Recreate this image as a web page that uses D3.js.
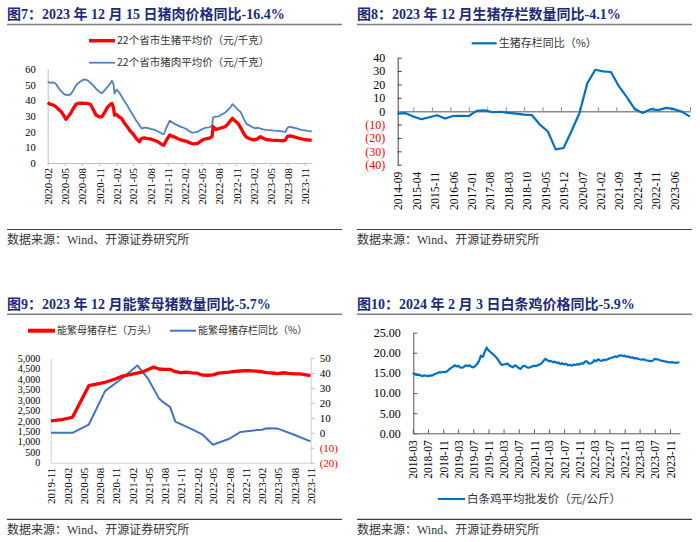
<!DOCTYPE html>
<html><head><meta charset="utf-8">
<script src="https://cdn.jsdelivr.net/npm/d3@7"></script>
<style>body{margin:0;background:#fff}</style>
</head><body>
<svg id="c" width="700" height="542" style="background:#fff"></svg>
<script>
// ---------- DATA ----------
// Chart 7: hog & pork prices
const c7Dates = ["2020-02-01","2020-02-15","2020-03-01","2020-03-15","2020-04-01","2020-04-15","2020-05-01","2020-05-08","2020-05-15","2020-06-01","2020-06-15","2020-07-01","2020-07-10","2020-08-01","2020-08-15","2020-09-01","2020-09-15","2020-10-01","2020-10-15","2020-11-01","2020-11-15","2020-12-01","2020-12-15","2021-01-01","2021-01-08","2021-01-16","2021-01-22","2021-02-01","2021-02-15","2021-03-01","2021-03-15","2021-04-01","2021-04-15","2021-05-01","2021-05-15","2021-06-03","2021-06-15","2021-07-01","2021-07-15","2021-08-01","2021-08-15","2021-09-01","2021-09-15","2021-10-01","2021-10-12","2021-10-25","2021-11-12","2021-11-25","2021-12-10","2021-12-25","2022-01-10","2022-01-25","2022-02-10","2022-02-25","2022-03-12","2022-03-25","2022-04-10","2022-04-25","2022-05-10","2022-05-25","2022-06-10","2022-06-25","2022-07-01","2022-07-15","2022-08-01","2022-08-15","2022-09-01","2022-09-15","2022-10-01","2022-10-12","2022-10-25","2022-11-10","2022-11-25","2022-12-10","2022-12-25","2023-01-10","2023-01-25","2023-02-10","2023-02-25","2023-03-10","2023-03-25","2023-04-10","2023-04-25","2023-05-10","2023-05-25","2023-06-10","2023-06-25","2023-07-10","2023-07-20","2023-08-01","2023-08-15","2023-09-01","2023-09-15","2023-10-01","2023-10-15","2023-11-01","2023-11-15","2023-12-01","2023-12-08"];
const c7Pork = [51.8,51.2,51.5,50.6,47.5,45.5,43.6,43.8,43.2,43.8,46.0,49.5,50.8,52.6,53.4,52.8,51.2,49.5,47.5,45.5,44.5,46.5,48.5,51.0,52.5,50.5,44.5,46.8,45.2,42.5,39.5,36.5,33.5,30.5,27.5,24.2,22.0,22.6,22.4,21.8,21.4,20.8,19.8,18.8,18.5,22.5,27.0,26.0,24.8,24.0,23.0,22.5,21.5,20.2,19.4,19.6,20.0,21.0,22.0,22.6,22.8,23.5,29.2,29.6,29.8,31.0,32.0,33.5,35.5,37.6,36.0,34.0,32.5,28.5,25.0,24.0,23.0,22.1,22.5,22.0,21.5,21.2,21.0,20.8,20.7,20.5,20.3,20.0,19.8,22.5,23.2,22.6,22.2,21.6,21.2,20.8,20.5,20.3,20.1];
const c7Hog = [38.6,37.5,37.0,36.0,34.0,32.5,29.5,27.9,28.8,31.5,34.5,37.5,38.0,38.2,38.0,38.0,37.5,34.0,30.6,29.5,29.5,32.5,35.5,37.5,38.0,35.5,30.5,31.0,29.5,28.5,25.5,23.0,20.5,18.5,16.0,13.6,15.7,16.0,15.6,15.4,14.8,14.0,13.2,11.8,11.3,14.5,17.9,17.0,16.5,15.5,14.8,14.3,13.8,13.0,12.4,12.2,12.5,13.8,15.0,15.5,15.8,16.8,23.2,21.5,22.0,22.5,23.0,24.5,27.0,28.5,27.0,25.3,22.5,19.0,16.5,15.6,15.0,14.8,15.7,16.8,15.8,15.0,14.8,14.6,14.5,14.4,14.3,14.2,14.5,17.0,17.3,16.8,16.3,15.8,15.4,15.0,14.8,14.6,14.5];
const c7YTicks = [0,10,20,30,40,50,60];
const c7XTicks = ["2020-02","2020-05","2020-08","2020-11","2021-02","2021-05","2021-08","2021-11","2022-02","2022-05","2022-08","2022-11","2023-02","2023-05","2023-08","2023-11"];

// Chart 8: hog inventory YoY (%)
const c8Dates = ["2014-09","2014-12","2015-03","2015-06","2015-09","2015-12","2016-03","2016-06","2016-09","2016-12","2017-03","2017-06","2017-09","2017-12","2018-03","2018-06","2018-09","2018-12","2019-03","2019-06","2019-09","2019-12","2020-03","2020-06","2020-09","2020-12","2021-03","2021-06","2021-09","2021-12","2022-03","2022-06","2022-09","2022-12","2023-03","2023-06","2023-09","2023-12"];
const c8Yoy = [-1.8,-1.5,-4,-6,-4.5,-3,-5.5,-3.6,-3.5,-3.6,0.3,0.6,-0.8,-0.4,-1.2,-1.8,-2.5,-3,-10,-15,-28.5,-27.5,-15,-1.5,21,31,29.8,29.3,18.5,10.5,1.8,-1.3,1.5,0.8,2.5,1.5,-0.5,-4.1];
const c8YTicks = [-40,-30,-20,-10,0,10,20,30,40];
const c8XTicks = ["2014-09","2015-04","2015-11","2016-06","2017-01","2017-08","2018-03","2018-10","2019-05","2019-12","2020-07","2021-02","2021-09","2022-04","2022-11","2023-06"];
const c8TickMarks = ["2015-03","2015-10","2016-05","2016-12","2017-07","2018-02","2018-09","2019-04","2019-11","2020-06","2021-01","2021-08","2022-03","2022-10","2023-05","2023-12"];

// Chart 9: breeding sows (10k head) and YoY (%)
const c9SowDates = ["2019-11","2020-01","2020-03","2020-06","2020-09","2020-11","2020-12","2021-02","2021-04","2021-05","2021-06","2021-07","2021-08","2021-09","2021-10","2021-11","2021-12","2022-01","2022-02","2022-03","2022-04","2022-05","2022-06","2022-07","2022-08","2022-09","2022-10","2022-11","2022-12","2023-01","2023-02","2023-03","2023-04","2023-05","2023-06","2023-07","2023-08","2023-09","2023-10","2023-11"];
const c9Sow = [2000,2060,2170,3680,3840,4010,4120,4230,4340,4450,4564,4475,4459,4459,4348,4296,4329,4290,4274,4185,4177,4192,4277,4298,4324,4362,4379,4394,4390,4376,4343,4305,4284,4258,4296,4261,4241,4240,4210,4158];
const c9YoyDates = ["2019-11","2020-03","2020-06","2020-09","2020-12","2021-03","2021-05","2021-07","2021-08","2021-09","2021-10","2022-01","2022-03","2022-05","2022-08","2022-10","2023-01","2023-02","2023-03","2023-05","2023-08","2023-11"];
const c9Yoy = [0,0,5.5,28,36,45,36,23,19.8,17.3,7.5,2.4,-1,-8,-4,0.5,1.8,2,3,2.8,-1.3,-5.7];
const c9LTicks = [0,500,1000,1500,2000,2500,3000,3500,4000,4500,5000];
const c9RTicks = [-20,-10,0,10,20,30,40,50];
const c9XTicks = ["2019-11","2020-02","2020-05","2020-08","2020-11","2021-02","2021-05","2021-08","2021-11","2022-02","2022-05","2022-08","2022-11","2023-02","2023-05","2023-08","2023-11"];

// Chart 10: white-striped chicken wholesale price (yuan/kg); value on the 1st and 16th of each month
const c10Months = ["2018-03","2018-04","2018-05","2018-06","2018-07","2018-08","2018-09","2018-10","2018-11","2018-12","2019-01","2019-02","2019-03","2019-04","2019-05","2019-06","2019-07","2019-08","2019-09","2019-10","2019-11","2019-12","2020-01","2020-02","2020-03","2020-04","2020-05","2020-06","2020-07","2020-08","2020-09","2020-10","2020-11","2020-12","2021-01","2021-02","2021-03","2021-04","2021-05","2021-06","2021-07","2021-08","2021-09","2021-10","2021-11","2021-12","2022-01","2022-02","2022-03","2022-04","2022-05","2022-06","2022-07","2022-08","2022-09","2022-10","2022-11","2022-12","2023-01","2023-02","2023-03","2023-04","2023-05","2023-06","2023-07","2023-08","2023-09","2023-10","2023-11","2023-12","2024-01"];
const c10First = [15.0,14.5,14.4,14.4,14.2,14.3,14.8,15.2,15.3,15.4,16.2,16.9,16.8,16.3,16.9,16.9,16.4,17.2,19.3,20.2,20.6,19.8,18.9,17.5,17.1,17.3,16.6,16.9,16.2,16.6,16.5,16.4,16.8,16.9,17.4,18.5,17.9,17.7,17.5,17.2,17.1,16.9,16.8,17.0,17.1,17.3,17.9,17.4,18.2,18.4,18.0,18.2,18.6,18.9,19.0,19.4,19.3,19.1,18.9,18.7,18.4,18.4,18.1,17.9,18.5,18.3,18.0,17.8,17.6,17.6,17.6];
const c10Mid = [14.7,14.6,14.2,14.3,14.4,14.6,15.0,15.1,15.2,15.8,16.5,16.6,16.4,16.5,16.7,16.5,16.7,18.0,19.0,21.3,20.2,19.4,18.3,17.0,17.2,16.9,16.4,16.6,16.0,16.8,16.3,16.6,16.7,17.1,18.0,18.2,18.0,17.8,17.6,17.4,17.3,17.0,17.1,17.2,17.4,17.8,17.3,17.6,17.9,18.1,18.3,18.4,18.8,19.1,19.3,19.2,19.0,18.8,18.6,18.5,18.3,18.2,18.0,18.1,18.4,18.1,17.9,17.7,17.7,17.5,17.6];
const c10YTicks = [0,5,10,15,20,25];
const c10XTicks = ["2018-03","2018-07","2018-11","2019-03","2019-07","2019-11","2020-03","2020-07","2020-11","2021-03","2021-07","2021-11","2022-03","2022-07","2022-11","2023-03","2023-07","2023-11"];

// ---------- HELPERS ----------
const svg = d3.select("#c");
const SERIF = '"Liberation Serif","Times New Roman","Noto Sans CJK SC",serif';
const CJK = '"Noto Sans CJK SC","Liberation Serif",sans-serif';
const pDay = d3.timeParse("%Y-%m-%d");
const pMon = d3.timeParse("%Y-%m");
const fMon = d3.timeFormat("%Y-%m");

function title(x, y, t) {
  svg.append("text").attr("x", x).attr("y", y).attr("font-size", 14).attr("font-weight", "bold")
    .attr("fill", "#1e2a78").attr("font-family", SERIF).text(t);
}
function rule(x1, x2, y, w, c) {
  svg.append("line").attr("x1", x1).attr("x2", x2).attr("y1", y).attr("y2", y)
    .attr("stroke", c).attr("stroke-width", w);
}
function source(x, y) {
  svg.append("text").attr("x", x).attr("y", y).attr("font-size", 12).attr("fill", "#333")
    .attr("font-family", SERIF).text("数据来源：Wind、开源证券研究所");
}
function legend(x1, x2, y, color, w, text, fs) {
  svg.append("line").attr("x1", x1).attr("x2", x2).attr("y1", y).attr("y2", y)
    .attr("stroke", color).attr("stroke-width", w);
  svg.append("text").attr("x", x2 + 2).attr("y", y + fs * 0.36).attr("font-size", fs)
    .attr("fill", "#333").attr("font-family", CJK).text(text);
}
function xAxisRot(scale, ticks, y, pad, fs, tickSize, tickColor, domainColor) {
  const g = svg.append("g").attr("transform", `translate(0,${y})`)
    .call(d3.axisBottom(scale).tickValues(ticks.map(pMon)).tickFormat(fMon).tickSize(tickSize).tickSizeOuter(0));
  if (domainColor) g.select(".domain").attr("stroke", domainColor); else g.select(".domain").remove();
  g.selectAll(".tick line").attr("stroke", tickColor);
  g.selectAll("text").attr("transform", "rotate(-90)").attr("x", -pad).attr("y", 0).attr("dy", "0.35em")
    .attr("text-anchor", "end").attr("font-size", fs).attr("font-family", SERIF).attr("fill", "#000");
  return g;
}
function styleY(g, fs, domainColor, tickColor, negRed) {
  g.select(".domain").attr("stroke", domainColor);
  g.selectAll(".tick line").attr("stroke", tickColor);
  g.selectAll("text").attr("font-size", fs).attr("font-family", SERIF)
    .attr("fill", d => (negRed && d < 0) ? "#ff0000" : "#000");
}
const negFmt = d => d < 0 ? `(${-d})` : `${d}`;

// ---------- FRAME ----------
title(7, 19, "图7：2023 年 12 月 15 日猪肉价格同比-16.4%");
title(357, 19, "图8：2023 年 12 月生猪存栏数量同比-4.1%");
title(7, 309, "图9：2023 年 12 月能繁母猪数量同比-5.7%");
title(357, 309, "图10：2024 年 2 月 3 日白条鸡价格同比-5.9%");
rule(7, 342, 24.5, 1.5, "#7f7f7f"); rule(357, 692, 24.5, 1.5, "#7f7f7f");
rule(7, 342, 314.3, 1.5, "#7f7f7f"); rule(357, 692, 314.3, 1.5, "#7f7f7f");
rule(7, 342, 229.5, 1.2, "#404040"); rule(357, 692, 229.5, 1.2, "#404040");
rule(7, 342, 519.3, 1.2, "#404040"); rule(357, 692, 519.3, 1.2, "#404040");
source(7, 244); source(357, 244); source(7, 534); source(357, 534);

// ---------- CHART 7 ----------
{
  const x = d3.scaleTime().domain([pDay("2020-02-01"), pDay("2023-12-08")]).range([47.7, 311.7]);
  const y = d3.scaleLinear().domain([0, 60]).range([163, 69]);
  const gy = svg.append("g").attr("transform", "translate(47.7,0)")
    .call(d3.axisLeft(y).tickValues(c7YTicks).tickSize(0).tickPadding(12).tickSizeOuter(0));
  styleY(gy, 10.5, "#bfbfbf", "#bfbfbf", false);
  xAxisRot(x, c7XTicks, 163, 5, 11, 3, "#bfbfbf", "#bfbfbf");
  const pork = c7Dates.map((d, i) => ({ d: pDay(d), v: c7Pork[i] }));
  const hog = c7Dates.map((d, i) => ({ d: pDay(d), v: c7Hog[i] }));
  const line = d3.line().x(p => x(p.d)).y(p => y(p.v));
  svg.append("path").datum(pork).attr("d", line).attr("fill", "none").attr("stroke", "#4f81bd").attr("stroke-width", 1.8).attr("stroke-linejoin", "round");
  svg.append("path").datum(hog).attr("d", line).attr("fill", "none").attr("stroke", "#ff0000").attr("stroke-width", 3.3).attr("stroke-linejoin", "round");
  legend(89, 115, 40.7, "#ff0000", 3.5, "22个省市生猪平均价（元/千克）", 10.5);
  legend(89, 115, 62.7, "#4f81bd", 1.8, "22个省市猪肉平均价（元/千克）", 10.5);
}

// ---------- CHART 8 ----------
{
  const x = d3.scaleTime().domain([pMon("2014-09"), pMon("2023-12")]).range([397.7, 690]);
  const y = d3.scaleLinear().domain([-40, 40]).range([164.7, 57.7]);
  const gy = svg.append("g").attr("transform", "translate(397.7,0)")
    .call(d3.axisLeft(y).tickValues(c8YTicks).tickFormat(negFmt).tickSize(-4).tickPadding(12.5).tickSizeOuter(0));
  styleY(gy, 12, "#404040", "#404040", true);
  const gz = svg.append("g").attr("transform", `translate(0,${y(0)})`)
    .call(d3.axisBottom(x).tickValues(c8TickMarks.map(pMon)).tickFormat("").tickSize(-4).tickSizeOuter(0));
  gz.select(".domain").attr("stroke", "#8c8c8c").attr("stroke-width", 1.5);
  gz.selectAll(".tick line").attr("stroke", "#8c8c8c");
  xAxisRot(x, c8XTicks, 164.7, 7, 11.5, 0, "none", null);
  const data = c8Dates.map((d, i) => ({ d: pMon(d), v: c8Yoy[i] }));
  svg.append("path").datum(data).attr("d", d3.line().x(p => x(p.d)).y(p => y(p.v)))
    .attr("fill", "none").attr("stroke", "#0070c0").attr("stroke-width", 2.2).attr("stroke-linejoin", "round");
  legend(471.7, 496.7, 43.3, "#0070c0", 2.2, "生猪存栏同比（%）", 11);
}

// ---------- CHART 9 ----------
{
  const x = d3.scaleTime().domain([pMon("2019-11"), pMon("2023-11")]).range([51, 310.5]);
  const yL = d3.scaleLinear().domain([0, 5000]).range([462.7, 358]);
  const yR = d3.scaleLinear().domain([-20, 50]).range([462.7, 358]);
  const gl = svg.append("g").attr("transform", "translate(50.7,0)")
    .call(d3.axisLeft(yL).tickValues(c9LTicks).tickFormat(d3.format(",")).tickSize(0).tickPadding(10.5).tickSizeOuter(0));
  styleY(gl, 10, "#d0d0d0", "#d0d0d0", false);
  const gr = svg.append("g").attr("transform", "translate(310.7,0)")
    .call(d3.axisRight(yR).tickValues(c9RTicks).tickFormat(negFmt).tickSize(4).tickPadding(5).tickSizeOuter(0));
  styleY(gr, 11, "#d0d0d0", "#bfbfbf", true);
  xAxisRot(x, c9XTicks, 462.7, 5, 11, 0, "none", "#d0d0d0");
  const sow = c9SowDates.map((d, i) => ({ d: pMon(d), v: c9Sow[i] }));
  const yoy = c9YoyDates.map((d, i) => ({ d: pMon(d), v: c9Yoy[i] }));
  svg.append("path").datum(yoy).attr("d", d3.line().x(p => x(p.d)).y(p => yR(p.v)))
    .attr("fill", "none").attr("stroke", "#4472c4").attr("stroke-width", 2).attr("stroke-linejoin", "round");
  svg.append("path").datum(sow).attr("d", d3.line().x(p => x(p.d)).y(p => yL(p.v)))
    .attr("fill", "none").attr("stroke", "#ff0000").attr("stroke-width", 3.3).attr("stroke-linejoin", "round");
  legend(28, 55, 330.7, "#ff0000", 4, "能繁母猪存栏（万头）", 10);
  legend(170, 196, 330.7, "#4472c4", 2, "能繁母猪存栏同比（%）", 10);
}

// ---------- CHART 10 ----------
{
  const x = d3.scaleTime().domain([pDay("2018-03-01"), pDay("2024-01-20")]).range([412.8, 680]);
  const y = d3.scaleLinear().domain([0, 25]).range([433.3, 332.7]);
  const gy = svg.append("g").attr("transform", "translate(413.3,0)")
    .call(d3.axisLeft(y).tickValues(c10YTicks).tickFormat(d3.format(".2f")).tickSize(-4).tickPadding(12.5).tickSizeOuter(0));
  styleY(gy, 12, "#595959", "#595959", false);
  xAxisRot(x, c10XTicks, 433.3, 7, 11.5, -4, "#595959", "#595959");
  const pts = [];
  c10Months.forEach((m, i) => {
    pts.push({ d: pDay(m + "-01"), v: c10First[i] });
    pts.push({ d: pDay(m + "-16"), v: c10Mid[i] });
  });
  svg.append("path").datum(pts).attr("d", d3.line().x(p => x(p.d)).y(p => y(p.v)))
    .attr("fill", "none").attr("stroke", "#0070c0").attr("stroke-width", 2.2).attr("stroke-linejoin", "round");
  legend(438, 465, 499, "#0070c0", 2, "白条鸡平均批发价（元/公斤）", 11.5);
}
</script>
</body></html>
